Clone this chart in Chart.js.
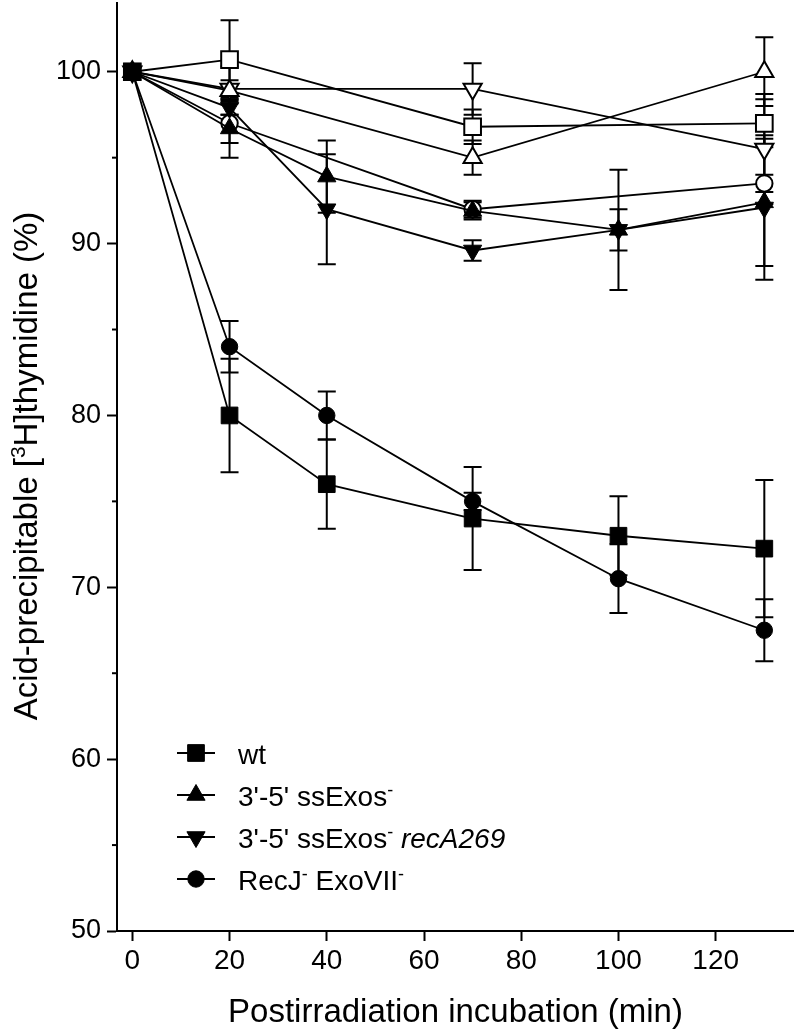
<!DOCTYPE html>
<html>
<head>
<meta charset="utf-8">
<script src="https://cdn.jsdelivr.net/npm/chart.js@4.4.1/dist/chart.umd.min.js"></script>
<style>
  html, body { margin: 0; padding: 0; background: #fff; }
  #wrap { width: 797px; height: 1032px; }
</style>
</head>
<body>
<div id="wrap"><canvas id="myChart"></canvas></div>
<script>
// time points (min)
var timesFull = [0, 20, 40, 70, 100, 130];
var timesOpen = [0, 20, 70, 130];

// filled series (in legend)
var wtValues = [100, 80, 76, 74, 73, 72.25];
var wtErr = [0, 3.3, 2.6, 3.0, 2.3, 4.0];
var exoValues = [100, 96.7, 93.9, 91.9, 90.8, 92.4];
var exoErr = [0, 1.7, 2.1, 0.5, 1.2, 3.7];
var recAValues = [100, 97.9, 92.0, 89.6, 90.8, 92.1];
var recAErr = [0, 0.4, 3.2, 0.6, 3.5, 4.2];
var recJValues = [100, 84, 80, 75, 70.5, 67.5];
var recJErr = [0, 1.5, 1.4, 0.5, 2.0, 1.8];

// open series (not in legend)
var openSquareValues = [100, 100.7, 96.8, 97.0];
var openSquareErr = [0, 2.3, 1.0, 1.4];
var openUpValues = [100, 98.9, 95.0, 100.0];
var openUpErr = [0, 1.4, 1.0, 2.0];
var openDownValues = [100, 99.0, 99.0, 95.5];
var openDownErr = [0, 0.5, 1.5, 3.2];
var openCircleValues = [100, 97.0, 92.0, 93.5];
var openCircleErr = [0, 1.15, 0.5, 0.5];

var xTicks = [0, 20, 40, 60, 80, 100, 120];
var yTicks = [50, 60, 70, 80, 90, 100];
var yMinorTicks = [55, 65, 75, 85, 95];

var FONT = '"Liberation Sans", Arial, Helvetica, sans-serif';

function pts(xs, ys) {
  return xs.map(function (x, i) { return { x: x, y: ys[i] }; });
}

function markerRadius(style) {
  return style === 'rect' ? 11.8 : (style === 'triangle' ? 10.5 : 8.2);
}

function series(xs, ys, err, style, filled, rot) {
  var r = markerRadius(style);
  return {
    data: pts(xs, ys),
    err: err,
    showLine: true,
    borderColor: '#000',
    borderWidth: 1.8,
    pointStyle: style,
    pointRadius: r,
    pointHoverRadius: r,
    pointRotation: rot || 0,
    pointBackgroundColor: filled ? '#000' : '#fff',
    pointBorderColor: '#000',
    pointBorderWidth: filled ? 1 : 2,
    fill: false,
    tension: 0,
    clip: false
  };
}

var legendRows = [
  { style: 'rect', rot: 0, runs: [{ t: 'wt' }] },
  { style: 'triangle', rot: 0, runs: [{ t: "3'-5' ssExos" }, { t: '-', sup: true }] },
  { style: 'triangle', rot: 180, runs: [{ t: "3'-5' ssExos" }, { t: '-', sup: true }, { t: ' ' }, { t: 'recA269', italic: true }] },
  { style: 'circle', rot: 0, runs: [{ t: 'RecJ' }, { t: '-', sup: true }, { t: ' ExoVII' }, { t: '-', sup: true }] }
];

function runFont(r, size, supSize) {
  return (r.italic ? 'italic ' : '') + (r.sup ? supSize : size) + 'px ' + FONT;
}

function runsWidth(ctx, runs, size, supSize) {
  var w = 0;
  runs.forEach(function (r) { ctx.font = runFont(r, size, supSize); w += ctx.measureText(r.t).width; });
  return w;
}

function drawRuns(ctx, runs, x, y, size, supSize, rise) {
  runs.forEach(function (r) {
    ctx.font = runFont(r, size, supSize);
    ctx.fillText(r.t, x, y - (r.sup ? rise : 0));
    x += ctx.measureText(r.t).width;
  });
}

var errorBars = {
  id: 'errorBars',
  beforeDatasetsDraw: function (chart) {
    var ctx = chart.ctx, xs = chart.scales.x, ys = chart.scales.y;
    ctx.save();
    ctx.strokeStyle = '#000';
    ctx.lineWidth = 2;
    chart.data.datasets.forEach(function (ds) {
      ds.data.forEach(function (p, i) {
        var e = ds.err[i];
        if (!e) return;
        var px = xs.getPixelForValue(p.x);
        var top = ys.getPixelForValue(p.y + e);
        var bot = ys.getPixelForValue(p.y - e);
        ctx.beginPath();
        ctx.moveTo(px, top); ctx.lineTo(px, bot);
        ctx.moveTo(px - 9, top); ctx.lineTo(px + 9, top);
        ctx.moveTo(px - 9, bot); ctx.lineTo(px + 9, bot);
        ctx.stroke();
      });
    });
    ctx.restore();
  }
};

var decorations = {
  id: 'decorations',
  afterDraw: function (chart) {
    var ctx = chart.ctx, ys = chart.scales.y, area = chart.chartArea;
    ctx.save();
    // minor y ticks
    ctx.strokeStyle = '#000';
    ctx.lineWidth = 2;
    yMinorTicks.forEach(function (v) {
      var py = ys.getPixelForValue(v);
      ctx.beginPath();
      ctx.moveTo(area.left - 5, py); ctx.lineTo(area.left, py);
      ctx.stroke();
    });

    ctx.fillStyle = '#000';
    ctx.textBaseline = 'alphabetic';
    ctx.textAlign = 'left';

    // x title
    var xRuns = [{ t: 'Postirradiation incubation (min)' }];
    var xw = runsWidth(ctx, xRuns, 33, 21);
    drawRuns(ctx, xRuns, 455.5 - xw / 2, 1022, 33, 21, 13);

    // y title
    var yRuns = [{ t: 'Acid-precipitable [' }, { t: '3', sup: true }, { t: 'H]thymidine (%)' }];
    ctx.save();
    ctx.translate(37, 466);
    ctx.rotate(-Math.PI / 2);
    var yw = runsWidth(ctx, yRuns, 33, 21);
    drawRuns(ctx, yRuns, -yw / 2, 0, 33, 21, 12);
    ctx.restore();

    // legend
    legendRows.forEach(function (row, i) {
      var base = 764 + i * 42;
      var my = base - 11;
      ctx.beginPath();
      ctx.lineWidth = 1.8;
      ctx.moveTo(177, my); ctx.lineTo(215, my);
      ctx.stroke();
      ctx.fillStyle = '#000';
      ctx.lineWidth = 1;
      Chart.helpers.drawPoint(ctx, { pointStyle: row.style, radius: markerRadius(row.style), rotation: row.rot, borderWidth: 1 }, 196, my);
      drawRuns(ctx, row.runs, 238, base, 28, 18, 10);
    });
    ctx.restore();
  }
};

new Chart('myChart', {
  type: 'scatter',
  data: {
    datasets: [
      series(timesFull, wtValues, wtErr, 'rect', true),
      series(timesFull, exoValues, exoErr, 'triangle', true),
      series(timesFull, recAValues, recAErr, 'triangle', true, 180),
      series(timesFull, recJValues, recJErr, 'circle', true),
      series(timesOpen, openSquareValues, openSquareErr, 'rect', false),
      series(timesOpen, openUpValues, openUpErr, 'triangle', false),
      series(timesOpen, openDownValues, openDownErr, 'triangle', false, 180),
      series(timesOpen, openCircleValues, openCircleErr, 'circle', false)
    ]
  },
  options: {
    responsive: true,
    maintainAspectRatio: false,
    animation: false,
    devicePixelRatio: 1,
    layout: { autoPadding: false, padding: { top: 3, right: 4, left: 0, bottom: 0 } },
    plugins: { legend: { display: false }, tooltip: { enabled: false } },
    scales: {
      x: {
        type: 'linear',
        min: -3.15,
        max: 135.9,
        afterBuildTicks: function (s) { s.ticks = xTicks.map(function (v) { return { value: v }; }); },
        afterFit: function (s) { s.height = 101; s.paddingLeft = 0; s.paddingRight = 0; },
        grid: { drawOnChartArea: false, tickLength: 10, tickWidth: 2, tickColor: '#000' },
        border: { color: '#000', width: 2 },
        ticks: { color: '#000', font: { family: FONT, size: 28 }, padding: 3, maxRotation: 0, autoSkip: false }
      },
      y: {
        min: 50,
        max: 104,
        afterBuildTicks: function (s) { s.ticks = yTicks.map(function (v) { return { value: v }; }); },
        afterFit: function (s) { s.width = 117; s.paddingTop = 0; s.paddingBottom = 0; },
        grid: { drawOnChartArea: false, tickLength: 10, tickWidth: 2, tickColor: '#000' },
        border: { color: '#000', width: 2 },
        ticks: { color: '#000', font: { family: FONT, size: 27 }, padding: 6 }
      }
    }
  },
  plugins: [errorBars, decorations]
});
</script>
</body>
</html>
